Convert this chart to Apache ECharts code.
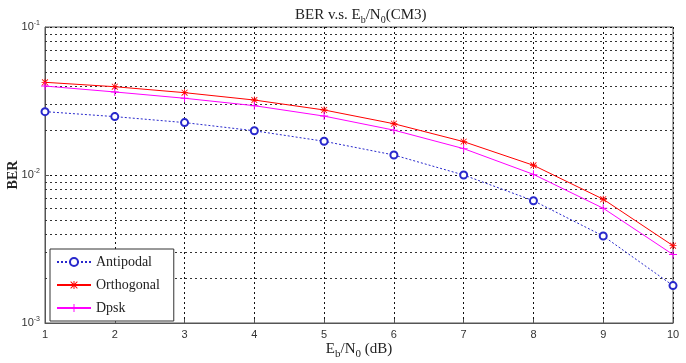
<!DOCTYPE html>
<html lang="en">
<head>
    <meta charset="UTF-8">
    <title>BER v.s. Eb/N0 (CM3)</title>
    <script type="text/javascript" src="https://cdn.jsdelivr.net/npm/echarts@6/dist/echarts.min.js"></script>
</head>
<body style="margin:0;background:#fff;">
<div id="main" style="width: 686px; height:363px;"></div>

<script>
    // Eb/N0 (dB)
    var ebno = [1, 2, 3, 4, 5, 6, 7, 8, 9, 10];
    var antipodal = [0.0268, 0.0248, 0.0226, 0.0199, 0.0169, 0.01365, 0.0100, 0.0067, 0.00387, 0.00179];
    var orthogonal = [0.0423, 0.0395, 0.0360, 0.0321, 0.0275, 0.0222, 0.0168, 0.01163, 0.00686, 0.00333];
    var dpsk = [0.0399, 0.0364, 0.0330, 0.0294, 0.0250, 0.0201, 0.01507, 0.0101, 0.00596, 0.0029];
    // minor grid lines of the log axis
    var minorTicks = [0.002, 0.003, 0.004, 0.005, 0.006, 0.007, 0.008, 0.009,
                      0.02, 0.03, 0.04, 0.05, 0.06, 0.07, 0.08, 0.09];

    function pairs(ys) {
        var out = [];
        for (var i = 0; i < ebno.length; i++) out.push([ebno[i], ys[i]]);
        return out;
    }

    var plusPath = 'path://M0,4.4L10,4.4L10,5.6L0,5.6Z M4.4,0L5.6,0L5.6,10L4.4,10Z';
    var starPath = 'path://M0,4.4L10,4.4L10,5.6L0,5.6Z M4.4,0L5.6,0L5.6,10L4.4,10Z M1.2,0.4L9.6,8.8L8.8,9.6L0.4,1.2Z M8.8,0.4L9.6,1.2L1.2,9.6L0.4,8.8Z';

    var myChart = echarts.init(document.getElementById('main'));

    var option = {
        animation: false,
        backgroundColor: '#fff',
        title: {
            text: 'BER v.s. E{sub|b}/N{sub|0}(CM3)',
            left: 290,
            top: 0,
            textStyle: {
                fontFamily: 'Liberation Serif',
                fontSize: 15,
                fontWeight: 'normal',
                color: '#222',
                rich: {sub: {fontFamily: 'Liberation Serif', fontSize: 10, color: '#222', padding: [10, 0, 0, 0]}}
            }
        },
        legend: {
            orient: 'vertical',
            left: 50,
            top: 249,
            padding: [6, 14, 6, 6],
            itemGap: 9,
            itemWidth: 34,
            itemHeight: 10,
            borderColor: '#333',
            borderWidth: 1,
            backgroundColor: '#fff',
            textStyle: {fontFamily: 'Liberation Serif', fontSize: 14, color: '#222'},
            data: ['Antipodal', 'Orthogonal', 'Dpsk']
        },
        grid: {
            left: 45,
            right: 13,
            top: 27,
            bottom: 40,
            outerBoundsMode: 'none',
            show: true,
            borderColor: '#555',
            borderWidth: 1
        },
        xAxis: {
            type: 'value',
            min: 1,
            max: 10,
            interval: 1,
            name: 'E{sub|b}/N{sub|0} (dB)',
            nameLocation: 'middle',
            nameGap: 16,
            nameMoveOverlap: false,
            nameTextStyle: {
                fontFamily: 'Liberation Serif',
                fontSize: 15,
                color: '#222',
                rich: {sub: {fontFamily: 'Liberation Serif', fontSize: 11, color: '#222', padding: [10, 0, 0, 0]}}
            },
            axisLine: {lineStyle: {color: '#555'}},
            axisTick: {inside: true, length: 4, lineStyle: {color: '#555'}},
            axisLabel: {fontFamily: 'Liberation Sans', fontSize: 11, color: '#333', margin: 6},
            splitLine: {show: true, lineStyle: {color: '#111', type: [2, 3], width: 1}}
        },
        yAxis: {
            type: 'log',
            logBase: 10,
            min: 0.001,
            max: 0.1,
            name: 'BER',
            nameLocation: 'middle',
            nameGap: 25,
            nameMoveOverlap: false,
            nameTextStyle: {fontFamily: 'Liberation Serif', fontSize: 14, fontWeight: 'bold', color: '#222'},
            axisLine: {lineStyle: {color: '#555'}},
            axisTick: {inside: true, length: 4, lineStyle: {color: '#555'}},
            axisLabel: {
                fontFamily: 'Liberation Sans',
                fontSize: 11,
                color: '#333',
                margin: 5,
                formatter: function (v) {
                    return '10{sup|' + Math.round(Math.log10(v)) + '}';
                },
                rich: {sup: {fontFamily: 'Liberation Sans', fontSize: 7, color: '#333', padding: [0, 0, 8, 0]}}
            },
            splitLine: {show: true, lineStyle: {color: '#111', type: [2, 3], width: 1}}
        },
        series: [
            {
                name: 'minorGrid',
                type: 'custom',
                silent: true,
                z: 1,
                data: minorTicks,
                encode: {y: 0},
                renderItem: function (params, api) {
                    var v = api.value(0);
                    var p1 = api.coord([1, v]);
                    var p2 = api.coord([10, v]);
                    var y = Math.round(p1[1]) + 0.5;
                    return {
                        type: 'line',
                        shape: {x1: p1[0], y1: y, x2: p2[0], y2: y},
                        style: {stroke: '#333', lineWidth: 1, lineDash: [2, 3]}
                    };
                }
            },
            {
                name: 'Antipodal',
                type: 'line',
                data: pairs(antipodal),
                symbol: 'emptyCircle',
                symbolSize: 7,
                lineStyle: {color: '#2828cc', width: 1, type: [2, 2]},
                itemStyle: {color: '#2828cc', borderWidth: 1}
            },
            {
                name: 'Orthogonal',
                type: 'line',
                data: pairs(orthogonal),
                symbol: starPath,
                symbolSize: 7,
                lineStyle: {color: '#ff0000', width: 1},
                itemStyle: {color: '#ff0000'}
            },
            {
                name: 'Dpsk',
                type: 'line',
                data: pairs(dpsk),
                symbol: plusPath,
                symbolSize: 8,
                lineStyle: {color: '#ff00ff', width: 1},
                itemStyle: {color: '#ff00ff'}
            }
        ]
    };

    myChart.setOption(option);
</script>
</body>
</html>
